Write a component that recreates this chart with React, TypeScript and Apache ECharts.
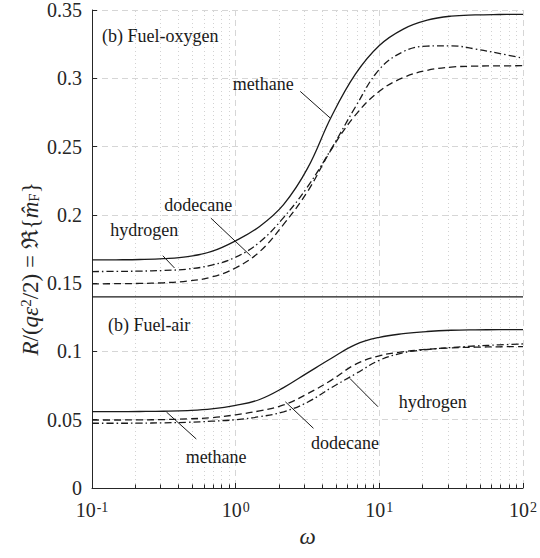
import { useEffect, useRef } from 'react';
import * as echarts from 'echarts';

// Forcing frequency samples, six per decade
const omega = [0.1, 0.147, 0.215, 0.316, 0.464, 0.681, 1, 1.468, 2.154, 3.162, 4.642, 6.813, 10, 14.68, 21.54, 31.62, 46.42, 68.13, 100];

// (b) Fuel-oxygen response
const oxyMethane = [0.167, 0.1671, 0.1673, 0.1679, 0.1694, 0.1732, 0.181, 0.1915, 0.2075, 0.234, 0.272, 0.303, 0.324, 0.336, 0.3425, 0.3455, 0.3464, 0.3467, 0.3468];
const oxyHydrogen = [0.1585, 0.1586, 0.1588, 0.1593, 0.1603, 0.1632, 0.169, 0.18, 0.198, 0.2205, 0.2485, 0.279, 0.3065, 0.3195, 0.3236, 0.3238, 0.3215, 0.3182, 0.3147];
const oxyDodecane = [0.1495, 0.1496, 0.1498, 0.1503, 0.1515, 0.1545, 0.1612, 0.173, 0.193, 0.217, 0.248, 0.273, 0.2905, 0.3005, 0.3058, 0.3082, 0.3089, 0.3091, 0.3092];

// (b) Fuel-air response
const airMethane = [0.0559, 0.0559, 0.056, 0.0562, 0.0567, 0.0579, 0.0605, 0.0648, 0.0735, 0.0843, 0.095, 0.105, 0.1103, 0.113, 0.1146, 0.1155, 0.1158, 0.1159, 0.1159];
const airHydrogen = [0.0474, 0.0474, 0.0475, 0.0477, 0.0481, 0.0489, 0.05, 0.0522, 0.0558, 0.0628, 0.0735, 0.0835, 0.0935, 0.099, 0.1014, 0.1029, 0.104, 0.1048, 0.1055];
const airDodecane = [0.0498, 0.0498, 0.0499, 0.0501, 0.0506, 0.0515, 0.0536, 0.0565, 0.0608, 0.069, 0.079, 0.0905, 0.0968, 0.0998, 0.1016, 0.1026, 0.1031, 0.1034, 0.1035];

// Panel divider level
const dividerLevel = 0.14;

// Minor decade positions for the dotted grid and ticks
const minorOmega = [0.2, 0.3, 0.4, 0.5, 0.6, 0.7, 0.8, 0.9, 2, 3, 4, 5, 6, 7, 8, 9, 20, 30, 40, 50, 60, 70, 80, 90];

// Labels in data coordinates: text anchor, alignment, optional leader line
const annotations: { text: string; at: [number, number]; align: 'left' | 'center'; leader?: [[number, number], [number, number]] }[] = [
  { text: '(b) Fuel-oxygen', at: [0.1173, 0.3313], align: 'left' },
  { text: '(b) Fuel-air', at: [0.129, 0.1191], align: 'left' },
  { text: 'methane', at: [1.557, 0.2955], align: 'center', leader: [[2.815, 0.2904], [4.54, 0.271]] },
  { text: 'dodecane', at: [0.549, 0.2073], align: 'center', leader: [[0.672, 0.1976], [1.27, 0.1701]] },
  { text: 'hydrogen', at: [0.2306, 0.1887], align: 'center', leader: [[0.311, 0.1701], [0.375, 0.1611]] },
  { text: 'methane', at: [0.731, 0.023], align: 'center', leader: [[0.33, 0.0556], [0.532, 0.0359]] },
  { text: 'dodecane', at: [5.76, 0.0328], align: 'center', leader: [[2.218, 0.0631], [3.48, 0.0437]] },
  { text: 'hydrogen', at: [23.5, 0.0627], align: 'center', leader: [[6.24, 0.0802], [9.79, 0.0595]] },
];

// Start of the rotated y-axis title (reads upward from here)
const yTitleStart = 0.097;

const FONT = "'Liberation Serif', 'DejaVu Serif', serif";
const INK = '#1a1a1a';
const AXIS = '#262626';

const pairs = (ys: number[]) => omega.map((w, i) => [w, ys[i]]);

const solid = { color: INK, width: 1.3, type: 'solid' as const };
const dashed = { color: INK, width: 1.3, type: [7, 4] };
const dashDot = { color: INK, width: 1.3, type: [7, 3, 1.5, 3] };

function curve(name: string, ys: number[], lineStyle: any) {
  return {
    name,
    type: 'line',
    data: pairs(ys),
    showSymbol: false,
    symbol: 'none',
    smooth: 0.4,
    lineStyle,
    silent: true,
    z: 5,
  };
}

export default function App() {
  const ref = useRef<HTMLDivElement>(null);

  useEffect(() => {
    if (!ref.current) return;
    const chart = echarts.init(ref.current, undefined, { renderer: 'svg' });

    chart.setOption({
      animation: false,
      backgroundColor: '#ffffff',
      textStyle: { fontFamily: FONT },
      grid: { left: 92, right: 14, top: 8, bottom: 70 },
      xAxis: {
        type: 'log',
        logBase: 10,
        min: 0.1,
        max: 100,
        name: 'ω',
        nameLocation: 'middle',
        nameGap: 30,
        nameTextStyle: { fontFamily: FONT, fontStyle: 'italic', fontSize: 23, color: AXIS },
        axisLine: { show: true, onZero: false, lineStyle: { color: AXIS, width: 1 } },
        axisTick: { show: true, inside: true, length: 5, lineStyle: { color: AXIS } },
        axisLabel: {
          margin: 12,
          fontFamily: FONT,
          formatter: (v: number) => `{b|10}{s|${Math.round(Math.log10(v))}}`,
          rich: {
            b: { fontFamily: FONT, fontSize: 20, color: AXIS },
            s: { fontFamily: FONT, fontSize: 14, color: AXIS, verticalAlign: 'top', padding: [0, 0, 0, 1] },
          },
        },
        splitLine: { show: true, lineStyle: { color: '#d6d6d6', width: 1, type: [6, 4] } },
      },
      yAxis: {
        type: 'value',
        min: 0,
        max: 0.35,
        interval: 0.05,
        axisLine: { show: true, lineStyle: { color: AXIS, width: 1 } },
        axisTick: { show: true, inside: true, length: 5, lineStyle: { color: AXIS } },
        axisLabel: { fontFamily: FONT, fontSize: 20, color: AXIS, margin: 10 },
        splitLine: { show: true, lineStyle: { color: '#d6d6d6', width: 1, type: [6, 4] } },
      },
      series: [
        {
          name: 'divider',
          type: 'line',
          data: [[0.1, dividerLevel], [100, dividerLevel]],
          showSymbol: false,
          symbol: 'none',
          lineStyle: { color: INK, width: 1.2 },
          silent: true,
          z: 4,
          markLine: {
            silent: true,
            symbol: 'none',
            animation: false,
            label: { show: false },
            data: [
              ...minorOmega.map((w) => ({ xAxis: w, lineStyle: { color: '#d2d2d2', width: 1, type: [1, 3] } })),
              ...minorOmega.map((w) => [
                { coord: [w, 0], lineStyle: { color: AXIS, width: 1, type: 'solid' } },
                { coord: [w, 0.0026] },
              ]),
            ],
          },
        },
        curve('methane (fuel-oxygen)', oxyMethane, solid),
        curve('hydrogen (fuel-oxygen)', oxyHydrogen, dashDot),
        curve('dodecane (fuel-oxygen)', oxyDodecane, dashed),
        curve('methane (fuel-air)', airMethane, solid),
        curve('hydrogen (fuel-air)', airHydrogen, dashDot),
        curve('dodecane (fuel-air)', airDodecane, dashed),
      ],
    });

    // Place labels and leader lines at their data positions
    const px = (p: [number, number]) => chart.convertToPixel({ gridIndex: 0 }, p) as number[];
    const graphic: any[] = [];
    annotations.forEach((a) => {
      const [x, y] = px(a.at);
      graphic.push({
        type: 'text',
        x,
        y,
        silent: true,
        z: 10,
        style: {
          text: a.text,
          fontFamily: FONT,
          fontSize: 18,
          fill: INK,
          align: a.align,
          verticalAlign: 'middle',
        },
      });
      if (a.leader) {
        const [x1, y1] = px(a.leader[0]);
        const [x2, y2] = px(a.leader[1]);
        graphic.push({
          type: 'line',
          silent: true,
          z: 10,
          shape: { x1, y1, x2, y2 },
          style: { stroke: INK, lineWidth: 1 },
        });
      }
    });

    // Rotated y-axis title
    const [, yStart] = px([0.1, yTitleStart]);
    graphic.push({
      type: 'text',
      x: 30,
      y: yStart,
      rotation: Math.PI / 2,
      silent: true,
      style: {
        text: '{i|R}{n|/(}{i|qε}{sup|2}{n|/2) = ℜ{}{i|m̂}{sub|F}{n|\u007d}',
        fontFamily: FONT,
        fontSize: 23,
        fill: AXIS,
        align: 'left',
        verticalAlign: 'middle',
        rich: {
          n: { fontFamily: FONT, fontSize: 23, fill: AXIS },
          i: { fontFamily: FONT, fontStyle: 'italic', fontSize: 23, fill: AXIS },
          sup: { fontFamily: FONT, fontSize: 15, fill: AXIS, verticalAlign: 'top' },
          sub: { fontFamily: FONT, fontSize: 15, fill: AXIS, verticalAlign: 'bottom' },
        },
      },
    });

    chart.setOption({ graphic });

    return () => chart.dispose();
  }, []);

  return <div ref={ref} style={{ position: 'fixed', left: 0, top: 0, width: 540, height: 558 }} />;
}
